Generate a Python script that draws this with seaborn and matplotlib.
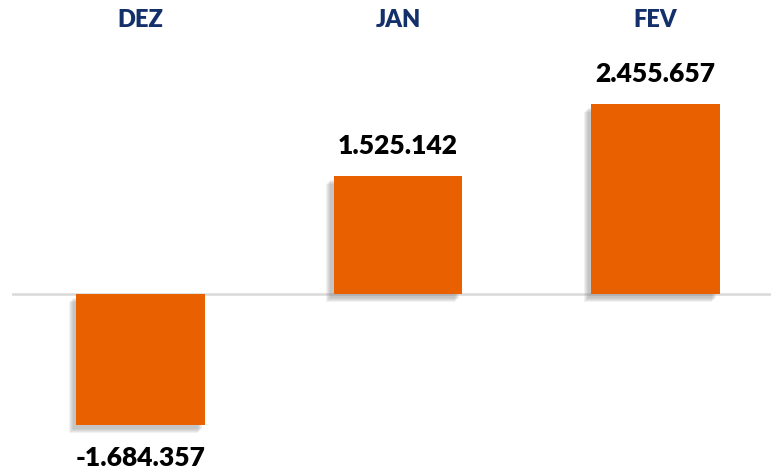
import matplotlib
matplotlib.use("Agg")
import matplotlib.pyplot as plt
import matplotlib.patheffects as pe
import seaborn as sns

# Data
months = ["DEZ", "JAN", "FEV"]
values = [-1684357, 1525142, 2455657]

bar_color = "#E96000"
month_color = "#14306B"

sns.set_style("white")
plt.rcParams['font.family'] = ['Lato', 'DejaVu Sans']

fig = plt.figure(figsize=(7.71, 4.69), dpi=100)
ax = fig.add_axes([12 / 771, 0, 1 - 12 / 771, 1])

sns.barplot(x=months, y=values, color=bar_color, width=0.5, saturation=1,
            ax=ax, zorder=3)

# soft drop shadow below/left of each bar
shadow = [pe.SimplePatchShadow(offset=(-2.5 - i * 0.7, -3 - i * 0.7),
                               shadow_rgbFace="#777777", alpha=0.1)
          for i in range(5)]
for patch in ax.patches:
    patch.set_edgecolor("none")
    patch.set_path_effects(shadow + [pe.Normal()])

ax.axhline(0, color="#d9d9d9", lw=1.8, zorder=1)

px = 12903  # data units per pixel
ax.set_xlim(-0.5, 2.449)
ax.set_ylim(-175 * px, 294 * px)
ax.axis("off")

for i, (m, v) in enumerate(zip(months, values)):
    ax.text(i, 0.957, m, transform=ax.get_xaxis_transform(), ha="center",
            va="center", fontsize=17, fontweight="heavy", color=month_color)
    label = f"{v:,}".replace(",", ".")
    if v >= 0:
        ax.text(i, v + 18 * px, label, ha="center", va="bottom",
                fontsize=19, fontweight="heavy", color="black")
    else:
        ax.text(i, v - 21 * px, label, ha="center", va="top",
                fontsize=19, fontweight="heavy", color="black")

plt.savefig("out.png", dpi=100)
